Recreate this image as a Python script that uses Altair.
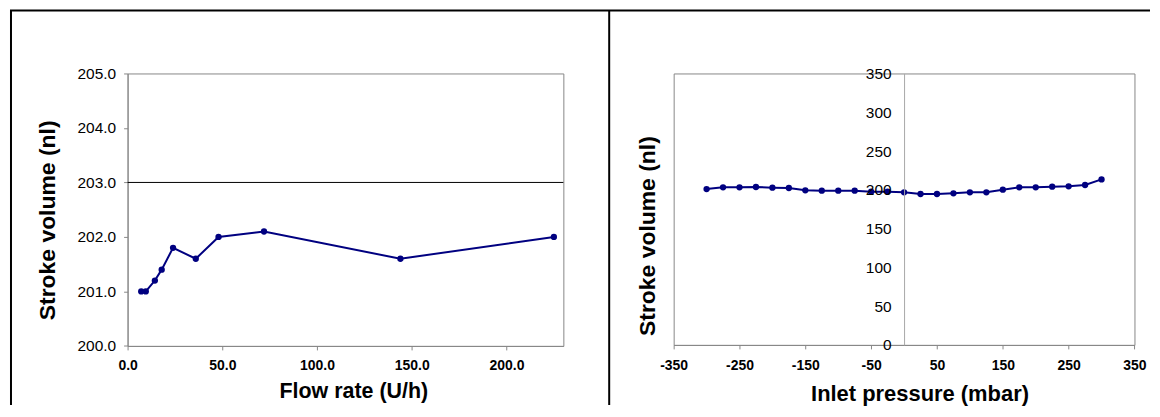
import altair as alt
import pandas as pd

# ---------------- data ----------------
flow_rate = [7.2, 9.6, 14.4, 18.0, 24.0, 36.0, 48.0, 72.0, 144.0, 225.0]
flow_stroke_volume = [201.0, 201.0, 201.2, 201.4, 201.8, 201.6, 202.0, 202.1, 201.6, 202.0]
flow_ticks = [0, 50, 100, 150, 200]
flow_volume_ticks = [200, 201, 202, 203, 204, 205]
flow_reference_level = [203.0]

inlet_pressure = [-300, -275, -250, -225, -200, -175, -150, -125, -100, -75, -50, -25,
                  0, 25, 50, 75, 100, 125, 150, 175, 200, 225, 250, 275, 300]
pressure_stroke_volume = [201.0, 203.2, 203.2, 203.6, 202.8, 202.3, 199.3, 198.9, 198.9,
                          198.9, 197.6, 197.6, 196.8, 194.6, 194.6, 195.5, 196.8, 196.8,
                          200.2, 203.2, 203.2, 204.0, 204.5, 206.2, 213.4]
pressure_ticks = [-350, -250, -150, -50, 50, 150, 250, 350]
pressure_volume_ticks = [0, 50, 100, 150, 200, 250, 300, 350]

# ---------------- style ----------------
FONT = "Liberation Sans"
NAVY = "#000080"
FRAME = "#888888"
ZERO_LINE = "#a8a8a8"

LW, LH = 437.3, 273.4
RW, RH = 462.4, 272.4

df_flow = pd.DataFrame({"flow": flow_rate, "volume": flow_stroke_volume})
df_ref = pd.DataFrame({"volume": flow_reference_level})
df_press = pd.DataFrame({"pressure": inlet_pressure, "volume": pressure_stroke_volume})
df_one = pd.DataFrame({"k": [0]})

common_x_axis = dict(
    labelFlush=False, labelFont=FONT, labelFontSize=14, labelFontWeight="bold",
    labelColor="black", tickSize=4, tickColor=FRAME, domainColor=FRAME, grid=False,
    titleFont=FONT, titleFontWeight="bold", titleColor="black",
    titleBaseline="alphabetic", titleAlign="center",
)

# ---------------- left panel ----------------
x1 = alt.X("flow:Q",
           scale=alt.Scale(domain=[0, 230], nice=False, zero=False),
           axis=alt.Axis(values=flow_ticks, format=".1f", title="Flow rate (U/h)",
                         labelPadding=9, titleFontSize=21.5, titleX=226.5, titleY=51.6,
                         **common_x_axis))
y1 = alt.Y("volume:Q",
           scale=alt.Scale(domain=[200, 205], nice=False, zero=False),
           axis=alt.Axis(values=flow_volume_ticks, format=".1f", title="Stroke volume (nl)",
                         labelFont=FONT, labelFontSize=15.5, labelColor="black",
                         labelPadding=8, tickSize=4, tickColor=FRAME, domainColor=FRAME,
                         grid=False, titleFont=FONT, titleFontSize=23,
                         titleFontWeight="bold", titleColor="black",
                         titleBaseline="alphabetic", titleAlign="center",
                         titleAngle=270, titleX=-73.6, titleY=146.9))

ref_rule = alt.Chart(df_ref).mark_rule(color="black", strokeWidth=1).encode(y=y1)
flow_line = alt.Chart(df_flow).mark_line(
    color=NAVY, strokeWidth=2,
    point=alt.OverlayMarkDef(filled=True, color=NAVY, size=40, opacity=1),
).encode(x=x1, y=y1)

# frame lines of the surrounding table (decoration)
left_border = alt.Chart(df_one).mark_rule(color="black", strokeWidth=2, clip=False).encode(
    x=alt.value(-117), y=alt.value(-63.3), y2=alt.value(332.7))
top_border = alt.Chart(df_one).mark_rule(color="black", strokeWidth=2, clip=False).encode(
    x=alt.value(-118), x2=alt.value(1026), y=alt.value(-63.3))
separator = alt.Chart(df_one).mark_rule(color="black", strokeWidth=2, clip=False).encode(
    x=alt.value(483.3), y=alt.value(-63.3), y2=alt.value(332.7))

left = alt.layer(ref_rule, flow_line, left_border, top_border, separator).properties(
    width=LW, height=LH)

# ---------------- right panel ----------------
x2 = alt.X("pressure:Q",
           scale=alt.Scale(domain=[-350, 350], nice=False, zero=False),
           axis=alt.Axis(values=pressure_ticks, labelExpr="'' + datum.value",
                         title="Inlet pressure (mbar)",
                         labelPadding=10, titleFontSize=22, titleX=246.7, titleY=55.3,
                         **common_x_axis))
y2 = alt.Y("volume:Q",
           scale=alt.Scale(domain=[0, 350], nice=False, zero=True),
           axis=alt.Axis(values=pressure_volume_ticks, format="d", title="Stroke volume (nl)",
                         offset=-RW / 2, ticks=False, labelPadding=13,
                         labelFont=FONT, labelFontSize=15.5, labelColor="black",
                         domainColor=ZERO_LINE, grid=False, zindex=1,
                         titleFont=FONT, titleFontSize=23, titleFontWeight="bold",
                         titleColor="black", titleBaseline="alphabetic",
                         titleAlign="center", titleAngle=270,
                         titleX=-250.3, titleY=162.7))

press_line = alt.Chart(df_press).mark_line(
    color=NAVY, strokeWidth=2,
    point=alt.OverlayMarkDef(filled=True, color=NAVY, size=40, opacity=1),
).encode(x=x2, y=y2)

right = press_line.properties(width=RW, height=RH)

chart = alt.hconcat(left, right, spacing=110, bounds="flush").properties(
    padding=0, background="white"
).configure(font=FONT).configure_view(stroke=FRAME, strokeWidth=1)

chart.save("out.html", embed_options={"renderer": "svg", "actions": False})
